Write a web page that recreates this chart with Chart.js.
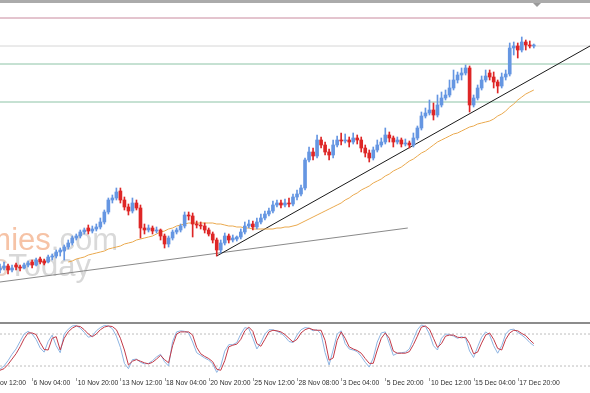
<!DOCTYPE html>
<html>
<head>
<meta charset="utf-8">
<script src="https://cdn.jsdelivr.net/npm/chart.js@4.4.1/dist/chart.umd.min.js"></script>
<style>
  html, body { margin: 0; padding: 0; background: #fff; }
  #wrap { position: relative; width: 590px; height: 393px; overflow: hidden; background: #fff; }
  #main { position: absolute; left: 0; top: 0; }
  #stoch { position: absolute; left: 0; top: 321px; }
  #topbar { position: absolute; left: 0; top: 0; width: 590px; height: 3px; background: #ababab; }
  #sep { position: absolute; left: 0; top: 322px; width: 590px; height: 2px; background: #8c8c8c; }
</style>
</head>
<body>
<div id="wrap">
  <canvas id="main" width="590" height="321"></canvas>
  <canvas id="stoch" width="590" height="72"></canvas>
  <div id="topbar"></div>
  <div id="sep"></div>
</div>
<script>
// H4 candles, bar 0 = left edge of the window
const openPrices = [
  1.1696,1.1700,1.1704,1.1696,1.1706,1.1702,1.1700,1.1706,1.1712,1.1706,
  1.1718,1.1714,1.1712,1.1722,1.1724,1.1732,1.1734,1.1742,1.1750,1.1760,
  1.1764,1.1772,1.1780,1.1774,1.1778,1.1782,1.1792,1.1812,1.1836,1.1840,
  1.1854,1.1836,1.1822,1.1814,1.1830,1.1820,1.1780,1.1776,1.1780,1.1774,
  1.1776,1.1764,1.1748,1.1760,1.1772,1.1776,1.1784,1.1806,1.1804,1.1788,
  1.1786,1.1784,1.1776,1.1768,1.1756,1.1736,1.1750,1.1764,1.1756,1.1758,
  1.1762,1.1772,1.1784,1.1788,1.1782,1.1792,1.1800,1.1808,1.1814,1.1826,
  1.1830,1.1826,1.1830,1.1828,1.1842,1.1848,1.1860,1.1916,1.1932,1.1924,
  1.1956,1.1946,1.1932,1.1926,1.1946,1.1956,1.1954,1.1956,1.1952,1.1960,
  1.1956,1.1940,1.1930,1.1920,1.1936,1.1946,1.1952,1.1966,1.1960,1.1952,
  1.1956,1.1948,1.1950,1.1946,1.1960,1.1980,1.2004,1.2010,1.2016,1.2006,
  1.2026,1.2040,1.2046,1.2060,1.2076,1.2086,1.2090,1.2100,1.2026,1.2040,
  1.2060,1.2076,1.2090,1.2082,1.2072,1.2064,1.2082,1.2088,1.2140,1.2144,
  1.2136,1.2152,1.2146,1.2144
];
const highPrices = [
  1.1708,1.1712,1.1708,1.1706,1.1710,1.1706,1.1710,1.1714,1.1716,1.1720,
  1.1722,1.1718,1.1726,1.1728,1.1736,1.1740,1.1746,1.1756,1.1764,1.1768,
  1.1776,1.1780,1.1786,1.1784,1.1788,1.1800,1.1816,1.1840,1.1846,1.1860,
  1.1860,1.1842,1.1828,1.1840,1.1836,1.1826,1.1788,1.1786,1.1784,1.1782,
  1.1778,1.1768,1.1764,1.1776,1.1780,1.1788,1.1812,1.1812,1.1810,1.1794,
  1.1792,1.1790,1.1780,1.1772,1.1760,1.1756,1.1770,1.1768,1.1766,1.1764,
  1.1778,1.1792,1.1796,1.1794,1.1800,1.1808,1.1814,1.1820,1.1834,1.1836,
  1.1836,1.1838,1.1840,1.1848,1.1856,1.1866,1.1920,1.1942,1.1940,1.1966,
  1.1962,1.1952,1.1938,1.1956,1.1964,1.1970,1.1968,1.1962,1.1970,1.1966,
  1.1962,1.1946,1.1936,1.1942,1.1956,1.1960,1.1980,1.1972,1.1964,1.1962,
  1.1960,1.1958,1.1954,1.1970,1.1984,1.2012,1.2020,1.2036,1.2030,1.2046,
  1.2052,1.2056,1.2076,1.2096,1.2092,1.2100,1.2106,1.2104,1.2046,1.2066,
  1.2084,1.2096,1.2096,1.2092,1.2076,1.2090,1.2096,1.2150,1.2152,1.2150,
  1.2162,1.2156,1.2154,1.2148
];
const lowPrices = [
  1.1690,1.1696,1.1688,1.1692,1.1696,1.1694,1.1698,1.1702,1.1700,1.1704,
  1.1708,1.1706,1.1710,1.1716,1.1720,1.1724,1.1716,1.1738,1.1746,1.1756,
  1.1760,1.1768,1.1768,1.1770,1.1774,1.1778,1.1788,1.1808,1.1830,1.1836,
  1.1830,1.1816,1.1806,1.1810,1.1816,1.1760,1.1768,1.1772,1.1768,1.1770,
  1.1756,1.1740,1.1742,1.1756,1.1768,1.1772,1.1780,1.1796,1.1762,1.1780,
  1.1778,1.1770,1.1764,1.1750,1.1724,1.1730,1.1746,1.1750,1.1752,1.1754,
  1.1758,1.1768,1.1780,1.1776,1.1778,1.1788,1.1796,1.1804,1.1810,1.1822,
  1.1820,1.1822,1.1822,1.1824,1.1836,1.1844,1.1856,1.1912,1.1916,1.1920,
  1.1940,1.1926,1.1916,1.1920,1.1942,1.1946,1.1950,1.1942,1.1948,1.1948,
  1.1932,1.1922,1.1912,1.1916,1.1932,1.1942,1.1948,1.1952,1.1942,1.1948,
  1.1942,1.1944,1.1940,1.1942,1.1956,1.1976,1.2000,1.2006,1.1996,1.2002,
  1.2022,1.2036,1.2042,1.2056,1.2070,1.2076,1.2086,1.2012,1.2022,1.2036,
  1.2056,1.2072,1.2076,1.2060,1.2050,1.2060,1.2076,1.2084,1.2126,1.2120,
  1.2132,1.2136,1.2140,1.2140
];
const closePrices = [
  1.1700,1.1704,1.1696,1.1700,1.1702,1.1700,1.1706,1.1710,1.1706,1.1716,
  1.1712,1.1710,1.1722,1.1724,1.1732,1.1736,1.1742,1.1750,1.1760,1.1764,
  1.1772,1.1776,1.1774,1.1778,1.1782,1.1792,1.1812,1.1836,1.1840,1.1852,
  1.1836,1.1822,1.1814,1.1830,1.1820,1.1780,1.1776,1.1780,1.1774,1.1776,
  1.1764,1.1748,1.1760,1.1772,1.1776,1.1784,1.1806,1.1804,1.1788,1.1786,
  1.1784,1.1776,1.1768,1.1756,1.1736,1.1750,1.1764,1.1756,1.1760,1.1762,
  1.1772,1.1784,1.1788,1.1782,1.1792,1.1800,1.1808,1.1814,1.1826,1.1830,
  1.1826,1.1830,1.1828,1.1842,1.1848,1.1860,1.1916,1.1932,1.1924,1.1956,
  1.1946,1.1932,1.1926,1.1946,1.1956,1.1954,1.1956,1.1952,1.1960,1.1956,
  1.1940,1.1930,1.1920,1.1936,1.1946,1.1952,1.1966,1.1960,1.1952,1.1956,
  1.1948,1.1950,1.1946,1.1960,1.1980,1.2004,1.2010,1.2016,1.2006,1.2026,
  1.2040,1.2046,1.2060,1.2076,1.2086,1.2090,1.2100,1.2026,1.2040,1.2060,
  1.2076,1.2084,1.2082,1.2072,1.2064,1.2082,1.2088,1.2140,1.2144,1.2136,
  1.2152,1.2146,1.2144,1.2146
];
// moving average (orange), starts at bar 17
const maValues = [
  null,null,null,null,null,null,null,null,null,null,
  null,null,null,null,null,null,null,
  1.1712,1.1714,1.1718,1.1720,1.1722,1.1726,1.1728,1.1730,1.1732,1.1734,
  1.1738,1.1740,1.1742,1.1744,1.1748,1.1750,1.1752,1.1756,1.1758,1.1760,
  1.1762,1.1764,1.1768,1.1772,1.1774,1.1778,1.1780,1.1784,1.1786,1.1788,
  1.1790,1.1790,1.1790,1.1790,1.1790,1.1790,1.1790,1.1788,1.1788,1.1786,
  1.1784,1.1784,1.1782,1.1782,1.1780,1.1780,1.1778,1.1778,1.1778,1.1778,
  1.1778,1.1778,1.1780,1.1780,1.1782,1.1782,1.1784,1.1786,1.1790,1.1794,
  1.1798,1.1802,1.1806,1.1810,1.1814,1.1818,1.1822,1.1826,1.1830,1.1836,
  1.1840,1.1846,1.1850,1.1856,1.1860,1.1864,1.1870,1.1874,1.1878,1.1884,
  1.1888,1.1894,1.1898,1.1902,1.1908,1.1914,1.1918,1.1924,1.1930,1.1934,
  1.1940,1.1946,1.1952,1.1956,1.1960,1.1964,1.1968,1.1970,1.1974,1.1978,
  1.1982,1.1984,1.1988,1.1990,1.1992,1.1994,1.1998,1.2004,1.2008,1.2014,
  1.2022,1.2028,1.2036,1.2042,1.2048,1.2052,1.2056
];
// stochastic oscillator
const stochK = [
  14,20,30,42,52,66,80,85,80,70, 54,46,66,78,58,45,80,89,95,96,
  91,83,74,76,86,92,96,95,90,76, 55,25,15,32,33,27,24,25,30,37,
  42,28,20,66,84,86,85,82,65,45, 40,35,31,24,8,20,48,60,60,64,
  80,92,90,72,52,64,80,88,88,85, 82,75,66,64,78,88,92,91,86,88,
  80,45,22,50,80,86,62,52,50,47, 38,27,18,35,65,82,84,62,40,44,
  45,46,52,70,88,97,94,80,58,50, 72,80,79,76,72,75,72,48,36,56,
  74,84,78,58,44,58,80,88,89,83, 78,72,64,58
];
const stochD = [
  12,15,23,33,43,56,71,82,82,79, 64,51,50,72,75,50,72,84,91,95,
  94,88,80,75,80,88,93,95,94,88, 72,50,22,29,32,29,26,24,27,33,
  40,32,26,58,80,84,84,84,78,55, 43,38,34,28,14,12,30,56,59,61,
  70,86,93,85,62,57,70,84,87,86, 84,79,72,65,70,82,88,91,88,87,
  87,68,31,35,68,84,72,56,52,49, 44,34,25,25,50,72,82,72,48,44,
  44,44,47,60,76,93,95,89,72,55, 62,76,78,78,74,73,74,62,43,46,
  63,78,82,70,53,50,70,82,87,86, 81,77,69,62
];
const stochLevels = [80, 20];

// horizontal levels and trend lines (bar index, price)
const levelPrices = [1.2200, 1.2144, 1.2108, 1.2032];
const levelColors = ['#c98a9e', '#d6d6d6', '#8cc3a6', '#8cc3a6'];
const trendSteep = [[54, 1.1724], [147, 1.2144]];
const trendFlat = [[0, 1.1672], [101.6, 1.1780]];

const tickLabels = ['2 Nov 12:00', '6 Nov 04:00', '10 Nov 20:00', '13 Nov 12:00', '18 Nov 04:00',
  '20 Nov 20:00', '25 Nov 12:00', '28 Nov 08:00', '3 Dec 04:00', '5 Dec 20:00',
  '10 Dec 12:00', '15 Dec 04:00', '17 Dec 20:00'];
const tickFirstBar = -3;
const tickStep = 11;

const lastSlot = 147;
const upColor = '#6596e2';
const downColor = '#de2626';

const candleColors = openPrices.map((o, i) => closePrices[i] >= o ? upColor : downColor);
const bodies = openPrices.map((o, i) => ({ x: i, y: [o, closePrices[i]] }));
const wicks = lowPrices.map((l, i) => ({ x: i, y: [l, highPrices[i]] }));
const maPoints = maValues.map((v, i) => ({ x: i, y: v }));

function lineSet(points, color, extra) {
  return Object.assign({
    type: 'line',
    data: points.map(p => ({ x: p[0], y: p[1] })),
    borderColor: color,
    borderWidth: 1,
    pointRadius: 0,
    tension: 0
  }, extra || {});
}

const watermark = {
  id: 'watermark',
  beforeDatasetsDraw(chart) {
    const ctx = chart.ctx;
    ctx.save();
    ctx.font = '31px "Liberation Sans", Arial, sans-serif';
    ctx.textAlign = 'left';
    ctx.textBaseline = 'alphabetic';
    const w1 = ctx.measureText('.com').width;
    ctx.fillStyle = '#d9d9d9';
    ctx.fillText('.com', 118 - w1, 250);
    const w1b = ctx.measureText('Economies').width;
    ctx.fillStyle = '#f6c3a6';
    ctx.fillText('Economies', 118 - w1 - w1b, 250);
    const w2 = ctx.measureText('Today').width;
    ctx.fillStyle = '#d8d8d8';
    ctx.fillText('Today', 91 - w2, 276);
    const w2b = ctx.measureText('News').width;
    ctx.fillStyle = '#e9d2c6';
    ctx.fillText('News', 91 - w2 - w2b, 276);
    // chart shift marker
    ctx.fillStyle = '#9a9a9a';
    ctx.beginPath();
    ctx.moveTo(533, 3); ctx.lineTo(541, 3); ctx.lineTo(537, 7); ctx.closePath();
    ctx.fill();
    ctx.restore();
  }
};

const timeAxis = {
  id: 'timeAxis',
  afterDraw(chart) {
    const ctx = chart.ctx;
    const xs = chart.scales.x;
    ctx.save();
    ctx.font = '6.8px "Liberation Sans", Arial, sans-serif';
    ctx.textAlign = 'left';
    ctx.textBaseline = 'middle';
    tickLabels.forEach((t, k) => {
      const px = xs.getPixelForValue(tickFirstBar + k * tickStep);
      ctx.fillStyle = '#2e2e2e';
      ctx.fillText(t, px + 1.5, 62);
      ctx.fillStyle = '#a0a0a0';
      ctx.fillRect(Math.round(px), 57, 1, 3);
    });
    ctx.restore();
  }
};

const commonOptions = (yMin, yMax) => ({
  responsive: false,
  animation: false,
  events: [],
  layout: { padding: 0 },
  plugins: { legend: { display: false }, tooltip: { enabled: false } },
  scales: {
    x: { type: 'linear', min: 0, max: lastSlot, offset: false, display: false },
    y: { min: yMin, max: yMax, display: false }
  }
});

const mainSets = [
  { type: 'bar', data: bodies, backgroundColor: candleColors, barThickness: 3, grouped: false, minBarLength: 1, borderWidth: 0 },
  { type: 'bar', data: wicks, backgroundColor: candleColors, barThickness: 1, grouped: false, borderWidth: 0 },
  { type: 'line', data: maPoints, borderColor: '#eaa94e', borderWidth: 1, pointRadius: 0, spanGaps: false },
  lineSet(trendSteep, '#1a1a1a'),
  lineSet(trendFlat, '#8a8a8a')
];
levelPrices.forEach((p, k) => mainSets.push(lineSet([[0, p], [lastSlot, p]], levelColors[k])));

new Chart(document.getElementById('main'), {
  type: 'bar',
  data: { datasets: mainSets },
  options: commonOptions(1.1594, 1.2236),
  plugins: [watermark]
});

const stochSets = [
  lineSet(stochD.map((v, i) => [i, v]), '#c23a48'),
  lineSet(stochK.map((v, i) => [i, v]), '#8db4e2')
];
stochLevels.forEach(v => stochSets.push(lineSet([[0, v], [lastSlot, v]], '#bdbdbd', { borderDash: [2, 2] })));

new Chart(document.getElementById('stoch'), {
  type: 'line',
  data: { datasets: stochSets },
  options: commonOptions(-30.6, 104.4),
  plugins: [timeAxis]
});
</script>
</body>
</html>
